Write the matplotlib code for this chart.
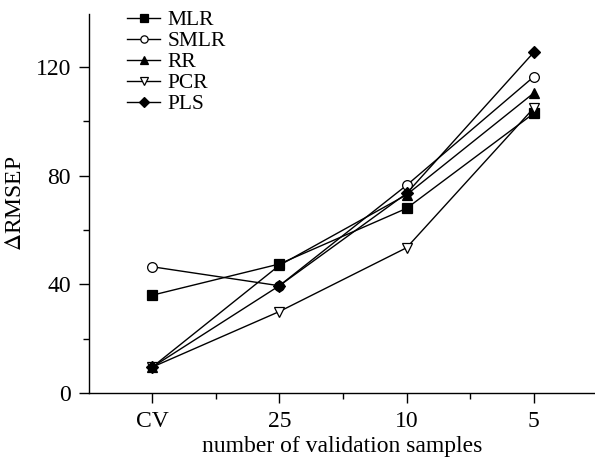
import matplotlib
matplotlib.use('Agg')
import matplotlib.pyplot as plt
from matplotlib.ticker import MultipleLocator

plt.rcParams['font.family'] = ['Liberation Serif', 'DejaVu Serif']
plt.rcParams['mathtext.fontset'] = 'stix'

categories = ['CV', '25', '10', '5']
mlr = [36, 47.5, 68, 103]
smlr = [46.5, 39.5, 76.5, 116.5]
rr = [9.5, 47, 73, 110.5]
pcr = [9.5, 30, 53.5, 105]
pls = [9.5, 39.5, 73.5, 125.5]

series = [
    ('MLR', mlr, 's', 'black'),
    ('SMLR', smlr, 'o', 'white'),
    ('RR', rr, '^', 'black'),
    ('PCR', pcr, 'v', 'white'),
    ('PLS', pls, 'D', 'black'),
]

fig = plt.figure(figsize=(5.95, 4.57), dpi=100)
ax = fig.add_axes([0.1496, 0.140, 0.8504, 0.829])

x = list(range(1, len(categories) + 1))
for name, vals, mk, fc in series:
    ms = 6.5 if mk == 'D' else 7
    ax.plot(x, vals, color='black', lw=1.0, marker=mk, markersize=ms,
            markerfacecolor=fc, markeredgecolor='black', markeredgewidth=0.9,
            label=name)

ax.set_xlim(0.505, 4.48)
ax.set_ylim(0, 139.5)
ax.set_xticks(x)
ax.set_xticklabels(categories)
ax.xaxis.set_minor_locator(MultipleLocator(0.5))
ax.set_yticks([0, 40, 80, 120])
ax.yaxis.set_minor_locator(MultipleLocator(20))

for s in ['top', 'right']:
    ax.spines[s].set_visible(False)
for s in ['left', 'bottom']:
    ax.spines[s].set_linewidth(1.0)

ax.tick_params(axis='both', which='major', direction='out', length=7, width=1.0,
               labelsize=17, pad=6)
ax.tick_params(axis='both', which='minor', direction='out', length=4, width=1.0)

ax.set_xlabel('number of validation samples', fontsize=17, labelpad=3)
ax.set_ylabel('$\\Delta$RMSEP', fontsize=17, labelpad=7)

ax.legend(loc='upper left', bbox_to_anchor=(0.075, 1.01), frameon=False,
          fontsize=15.5, handlelength=1.55, handletextpad=0.35, labelspacing=0.04,
          borderpad=0, borderaxespad=0, markerscale=0.75)

fig.savefig('out.png', dpi=100)
